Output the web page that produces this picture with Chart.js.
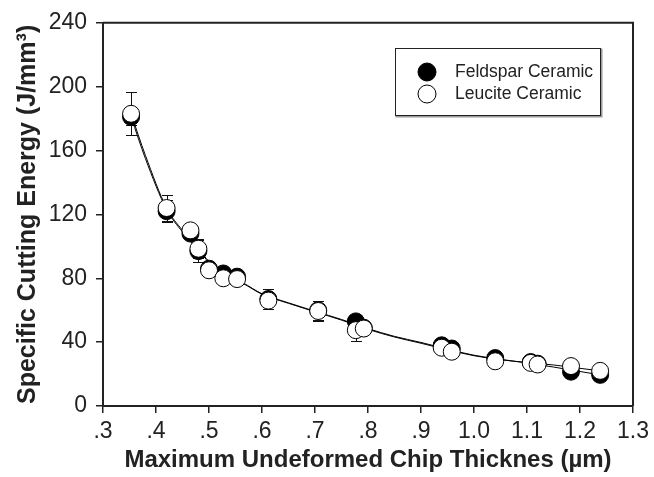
<!DOCTYPE html>
<html>
<head>
<meta charset="utf-8">
<script src="https://cdn.jsdelivr.net/npm/chart.js"></script>
<style>
  body { margin: 0; background: #fff; }
  #wrap { width: 654px; height: 477px; }
</style>
</head>
<body>
<div id="wrap"><canvas id="energyChart" width="654" height="477"></canvas></div>

<script>
var thickness  = [0.353, 0.42, 0.465, 0.48, 0.50, 0.527, 0.553, 0.612, 0.706, 0.777, 0.792, 0.939, 0.958, 1.04, 1.107, 1.12, 1.183, 1.238];
var feldspar   = [181, 122, 108, 97, 86, 83, 81, 67, 60, 53, 49, 38, 36, 30, 27.5, 26.5, 21.5, 19.5];
var leucite    = [183, 124, 110, 98.5, 85, 80, 79.5, 66, 59.5, 47.5, 48.5, 36.5, 34, 28, 27, 26, 25, 22];
var feldsparErr = [5, 7, 0, 7, 0, 0, 0, 6, 6, 0, 0, 0, 0, 0, 0, 0, 0, 0];
var leuciteErr  = [13.5, 8, 3, 6, 3, 0, 0, 5, 6.5, 6.5, 0, 0, 0, 0, 0, 0, 0, 0];

// fitted curves
var fitX        = [0.353, 0.38, 0.42, 0.45, 0.48, 0.50, 0.53, 0.563, 0.60, 0.65, 0.70, 0.75, 0.80, 0.85, 0.90, 0.95, 1.00, 1.05, 1.10, 1.15, 1.20, 1.238];
var fitFeldspar = [181, 155, 123, 109, 97.5, 90, 82, 77.3, 70.3, 64.6, 59.3, 54.2, 48.5, 43.6, 39.8, 35.6, 31.8, 29.2, 27, 24.4, 21.6, 19.5];
var fitLeucite  = [183, 157, 124, 110, 98.5, 90.5, 82, 77, 70, 64.3, 59, 53.8, 48, 43.2, 39.3, 35.2, 31.5, 29, 27.2, 25.7, 23.6, 22];

var seriesNames = ['Feldspar Ceramic', 'Leucite Ceramic'];
var xTicks = [0.3, 0.4, 0.5, 0.6, 0.7, 0.8, 0.9, 1.0, 1.1, 1.2, 1.3];
var yTicks = [0, 40, 80, 120, 160, 200, 240];

function pts(xs, ys) {
    return xs.map(function (x, i) { return { x: x, y: ys[i] }; });
}

var FONT = "'Liberation Sans', Arial, sans-serif";
var INK = '#222';

// error bars, drawn under the markers
var errorBars = {
    id: 'errorBars',
    beforeDatasetsDraw: function (chart) {
        var ctx = chart.ctx, xs = chart.scales.x, ys = chart.scales.y;
        var sets = [[feldspar, feldsparErr], [leucite, leuciteErr]];
        ctx.save();
        ctx.strokeStyle = '#111';
        ctx.lineWidth = 1;
        sets.forEach(function (s) {
            thickness.forEach(function (t, i) {
                var e = s[1][i];
                if (!e) return;
                var px = Math.round(xs.getPixelForValue(t)) + 0.5;
                var top = Math.round(ys.getPixelForValue(s[0][i] + e)) + 0.5;
                var bot = Math.round(ys.getPixelForValue(s[0][i] - e)) + 0.5;
                ctx.beginPath();
                ctx.moveTo(px, top); ctx.lineTo(px, bot);
                ctx.moveTo(px - 5.5, top); ctx.lineTo(px + 5.5, top);
                ctx.moveTo(px - 5.5, bot); ctx.lineTo(px + 5.5, bot);
                ctx.stroke();
            });
        });
        ctx.restore();
    }
};

// top/right frame and the boxed legend
var frameAndLegend = {
    id: 'frameAndLegend',
    afterDraw: function (chart) {
        var ctx = chart.ctx, a = chart.chartArea;
        ctx.save();
        ctx.strokeStyle = INK;
        ctx.lineWidth = 2;
        ctx.beginPath();
        ctx.moveTo(a.left, a.top);
        ctx.lineTo(a.right, a.top);
        ctx.lineTo(a.right, a.bottom);
        ctx.stroke();

        // legend box
        var bx = 395.5, by = 48.5, bw = 205, bh = 67;
        ctx.strokeStyle = '#999';
        ctx.lineWidth = 2;
        ctx.strokeRect(bx + 1, by + 1, bw, bh);
        ctx.fillStyle = '#fff';
        ctx.fillRect(bx, by, bw, bh);
        ctx.strokeStyle = INK;
        ctx.lineWidth = 1;
        ctx.strokeRect(bx, by, bw, bh);

        var rows = [72, 94];
        ctx.font = '17.5px ' + FONT;
        ctx.textBaseline = 'middle';
        rows.forEach(function (ry, k) {
            ctx.beginPath();
            ctx.arc(427, ry, 9, 0, Math.PI * 2);
            ctx.fillStyle = k === 0 ? '#000' : '#fff';
            ctx.fill();
            ctx.strokeStyle = '#000';
            ctx.lineWidth = 1;
            ctx.stroke();
            ctx.fillStyle = INK;
            ctx.fillText(seriesNames[k], 455, ry);
        });
        ctx.restore();
    }
};

function curve(label, ys, order) {
    return {
        label: label,
        data: pts(fitX, ys),
        showLine: true,
        pointRadius: 0,
        borderColor: '#000',
        borderWidth: 1,
        cubicInterpolationMode: 'monotone',
        order: order
    };
}

var ctx = document.getElementById('energyChart').getContext('2d');
var chart = new Chart(ctx, {
    type: 'scatter',
    data: {
        datasets: [
            {
                label: seriesNames[1],
                data: pts(thickness, leucite),
                pointRadius: 8.5,
                pointHoverRadius: 8.5,
                pointBackgroundColor: '#fff',
                pointBorderColor: '#000',
                pointBorderWidth: 1,
                order: 0
            },
            {
                label: seriesNames[0],
                data: pts(thickness, feldspar),
                pointRadius: 8.5,
                pointHoverRadius: 8.5,
                pointBackgroundColor: '#000',
                pointBorderColor: '#000',
                pointBorderWidth: 1,
                order: 1
            },
            curve('leucite fit', fitLeucite, 2),
            curve('feldspar fit', fitFeldspar, 3)
        ]
    },
    options: {
        responsive: false,
        animation: false,
        events: [],
        layout: { padding: { top: 21, right: 19, left: 0, bottom: 0 } },
        plugins: {
            legend: { display: false },
            tooltip: { enabled: false }
        },
        scales: {
            x: {
                type: 'linear',
                min: 0.3,
                max: 1.3,
                afterBuildTicks: function (s) { s.ticks = xTicks.map(function (v) { return { value: v }; }); },
                afterFit: function (s) { s.height = 71; },
                border: { display: true, color: INK, width: 2 },
                grid: { drawOnChartArea: false, drawTicks: true, tickLength: 7, color: INK, lineWidth: 1.5 },
                ticks: {
                    color: INK,
                    padding: 5,
                    font: { family: FONT, size: 23 },
                    maxRotation: 0,
                    callback: function (v) {
                        var r = Math.round(v * 10) / 10;
                        return r < 1 ? '.' + Math.round(r * 10) : r.toFixed(1);
                    }
                },
                title: {
                    display: true,
                    text: 'Maximum Undeformed Chip Thicknes (\u00b5m)',
                    color: INK,
                    font: { family: FONT, size: 24, weight: 'bold' },
                    padding: { top: 0, bottom: 2 }
                }
            },
            y: {
                type: 'linear',
                min: 0,
                max: 240,
                afterBuildTicks: function (s) { s.ticks = yTicks.map(function (v) { return { value: v }; }); },
                afterFit: function (s) { s.width = 103; },
                border: { display: true, color: INK, width: 2 },
                grid: { drawOnChartArea: false, drawTicks: true, tickLength: 7, color: INK, lineWidth: 1.5 },
                ticks: {
                    color: INK,
                    padding: 9,
                    font: { family: FONT, size: 23 }
                },
                title: {
                    display: true,
                    text: 'Specific Cutting Energy (J/mm\u00b3)',
                    color: INK,
                    font: { family: FONT, size: 25, weight: 'bold' },
                    padding: { top: 13, bottom: 0 }
                }
            }
        }
    },
    plugins: [errorBars, frameAndLegend]
});
</script>
</body>
</html>
